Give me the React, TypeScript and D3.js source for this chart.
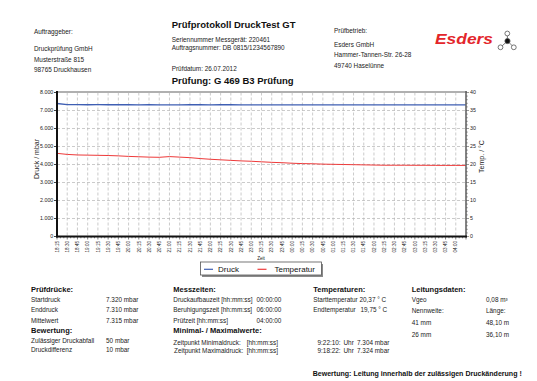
import React from "react";
import * as d3 from "d3";

const timeLabels = [
  "18:15","18:30","18:45","19:00","19:15","19:30","19:45","20:00","20:15","20:30","20:45",
  "21:00","21:15","21:30","21:45","22:00","22:15","22:30","22:45","23:00","23:15","23:30","23:45",
  "00:00","00:15","00:30","00:45","01:00","01:15","01:30","01:45","02:00","02:15","02:30","02:45",
  "03:00","03:15","03:30","03:45","04:00","04:15"
];
const druck = [
  7390, 7328, 7322, 7320, 7321, 7320, 7319, 7320, 7318, 7320, 7316,
  7310, 7318, 7320, 7319, 7318, 7320, 7319, 7318, 7317, 7318, 7317, 7316,
  7318, 7316, 7317, 7315, 7316, 7315, 7314, 7316, 7311, 7308, 7314, 7312,
  7313, 7311, 7312, 7310, 7311, 7310
];
const temperatur = [
  23.1, 22.8, 22.65, 22.6, 22.55, 22.5, 22.4, 22.25, 22.15, 22.05, 22.0,
  22.2, 22.05, 21.9, 21.65, 21.45, 21.3, 21.15, 21.0, 20.9, 20.75, 20.6, 20.5,
  20.35, 20.25, 20.2, 20.1, 20.05, 20.0, 19.95, 19.9, 19.85, 19.8, 19.8, 19.8,
  19.78, 19.78, 19.76, 19.75, 19.75, 19.75
];
const druckTicks = [0, 1000, 2000, 3000, 4000, 5000, 6000, 7000, 8000];
const tempTicks = [0, 5, 10, 15, 20, 25, 30, 35, 40];

const FONT = "'Liberation Sans', Arial, sans-serif";
const BLUE = "#3f5fb3";
const RED = "#ee3a3a";

const de = d3.formatLocale({ decimal: ",", thousands: ".", grouping: [3], currency: ["", "€"] });
const fmtK = de.format(",");

export default function App() {
  const L = 57, R = 466, T = 92.5, B = 236.5;
  const x = d3.scalePoint<string>().domain(timeLabels).range([L, R]);
  const yL = d3.scaleLinear().domain([0, 8000]).range([B, T]);
  const yR = d3.scaleLinear().domain([0, 40]).range([B, T]);

  const lineD = d3.line<number>().x((_, i) => x(timeLabels[i]) as number).y((d) => yL(d));
  const lineT = d3.line<number>().x((_, i) => x(timeLabels[i]) as number).y((d) => yR(d));

  const t = (xx: number, yy: number, s: string, opts: any = {}) => (
    <text x={xx} y={yy} fontSize={opts.size ?? 6.4} fontWeight={opts.bold ? "bold" : "normal"}
      fill={opts.fill ?? "#222"} textAnchor={opts.anchor ?? "start"}
      textLength={opts.len} lengthAdjust={opts.len ? "spacingAndGlyphs" : undefined}>{s}</text>
  );

  const minorTemp = d3.range(0, 41, 1);
  const minorTime = d3.range(0, 120 + 1);

  return (
    <svg width={537} height={381} style={{ position: "absolute", left: 0, top: 0, background: "#fff" }}
      fontFamily={FONT}>
      <rect x={0} y={0} width={537} height={381} fill="#fff" />
      {/* header left */}
      {t(34, 34, "Auftraggeber:")}
      {t(34, 50.6, "Druckprüfung GmbH")}
      {t(34, 61.6, "Musterstraße 815")}
      {t(34, 72.3, "98765 Druckhausen")}
      {/* header center */}
      {t(171.7, 28.4, "Prüfprotokoll DruckTest GT", { size: 9.5, bold: true, fill: "#111" })}
      {t(171.7, 41.6, "Seriennummer Messgerät: 220461")}
      {t(171.7, 49.6, "Auftragsnummer: DB 0815/1234567890")}
      {t(171.7, 70.6, "Prüfdatum: 26.07.2012")}
      {t(171.7, 83.7, "Prüfung: G 469 B3 Prüfung", { size: 9.5, bold: true, fill: "#111" })}
      {/* header right */}
      {t(334, 33.3, "Prüfbetrieb:")}
      {t(334, 46.6, "Esders GmbH")}
      {t(334, 57.3, "Hammer-Tannen-Str. 26-28")}
      {t(334, 68.3, "49740 Haselünne")}
      {/* logo */}
      <text x={435} y={43.5} fontSize={15.5} fontWeight="bold" fontStyle="italic" fill="#e3262b"
        textLength={58} lengthAdjust="spacingAndGlyphs">Esders</text>
      <g stroke="#555" strokeWidth={0.8}>
        <line x1={507.5} y1={41} x2={507.3} y2={33.5} />
        <line x1={507.5} y1={41} x2={500.5} y2={47.3} />
        <line x1={507.5} y1={41} x2={513.8} y2={47.3} />
        <circle cx={507.3} cy={33.5} r={2.4} fill="#fff" />
        <circle cx={500.5} cy={47.3} r={2.4} fill="#fff" />
        <circle cx={513.8} cy={47.3} r={2.4} fill="#fff" />
        <circle cx={507.5} cy={41} r={2.6} fill="#111" />
      </g>

      {/* grid */}
      <g stroke="#b5b5b5" strokeWidth={0.7} strokeDasharray="3,2">
        {druckTicks.slice(1, -1).map((v) => (
          <line key={"h" + v} x1={L} x2={R} y1={yL(v)} y2={yL(v)} />
        ))}
        {timeLabels.slice(1, -1).map((s) => (
          <line key={"v" + s} x1={x(s)} x2={x(s)} y1={T} y2={B} />
        ))}
      </g>
      {/* top border */}
      <line x1={L} x2={R + 1} y1={T - 0.5} y2={T - 0.5} stroke="#b0b0b0" strokeWidth={2} />

      {/* lines */}
      <path d={lineT(temperatur) as string} fill="none" stroke={RED} strokeWidth={1} />
      <path d={lineD(druck) as string} fill="none" stroke={BLUE} strokeWidth={1.3} />

      {/* left axis */}
      <line x1={L} x2={L} y1={T - 1.5} y2={B + 1} stroke="#111" strokeWidth={2} />
      {druckTicks.map((v) => (
        <g key={"lt" + v}>
          <line x1={L - 3} x2={L} y1={yL(v)} y2={yL(v)} stroke="#111" strokeWidth={0.8} />
          <text x={53.3} y={yL(v) + 1.9} fontSize={5.3} textAnchor="end" fill="#222">{fmtK(v)}</text>
        </g>
      ))}
      <text transform={`translate(38.5,159) rotate(-90)`} fontSize={7} textAnchor="middle" fill="#222">Druck / mbar</text>

      {/* right axis */}
      <line x1={R} x2={R} y1={T - 1.5} y2={B + 1} stroke="#666" strokeWidth={1.6} />
      {minorTemp.map((v) => (
        <line key={"rm" + v} x1={R} x2={R + (v % 5 === 0 ? 3 : 1.8)} y1={yR(v)} y2={yR(v)} stroke="#555" strokeWidth={0.6} />
      ))}
      {tempTicks.map((v) => (
        <text key={"rt" + v} x={470} y={yR(v) + 1.9} fontSize={5.3} fill="#222">{v}</text>
      ))}
      <text transform={`translate(483.5,156.5) rotate(-90)`} fontSize={7} textAnchor="middle" fill="#222">Temp. / °C</text>

      {/* bottom axis */}
      <line x1={L - 1} x2={R + 1} y1={B} y2={B} stroke="#111" strokeWidth={2} />
      {minorTime.map((k) => {
        const xx = L + (k / 120) * (R - L);
        return <line key={"bm" + k} x1={xx} x2={xx} y1={B} y2={B + (k % 3 === 0 ? 3 : 1.8)} stroke="#222" strokeWidth={0.6} />;
      })}
      {timeLabels.slice(0, -1).map((s) => (
        <text key={"xl" + s} transform={`translate(${(x(s) as number) + 1.7},241) rotate(-90)`}
          fontSize={4.6} textAnchor="end" fill="#222">{s}</text>
      ))}
      <text x={261} y={259.8} fontSize={4.6} textAnchor="middle" fill="#222">Zeit</text>

      {/* legend */}
      <rect x={202} y={264} width={121} height={13} fill="#8a8a8a" />
      <rect x={200.5} y={262} width={121} height={13} fill="#fff" stroke="#555" strokeWidth={0.8} />
      <line x1={204} x2={213} y1={269.3} y2={269.3} stroke={BLUE} strokeWidth={1.2} />
      <text x={218} y={272.2} fontSize={8} fill="#111">Druck</text>
      <line x1={257.5} x2={266.5} y1={269.3} y2={269.3} stroke={RED} strokeWidth={1.2} />
      <text x={274.5} y={272.2} fontSize={8} fill="#111">Temperatur</text>

      {/* bottom section: col 1 */}
      {t(31, 291.7, "Prüfdrücke:", { size: 7.5, bold: true, fill: "#111" })}
      {t(31, 301.5, "Startdruck")}{t(106, 301.5, "7.320 mbar")}
      {t(31, 312, "Enddruck")}{t(106, 312, "7.310 mbar")}
      {t(31, 323, "Mittelwert")}{t(106, 323, "7.315 mbar")}
      {t(31, 332.7, "Bewertung:", { size: 7.5, bold: true, fill: "#111" })}
      {t(31, 342.5, "Zulässiger Druckabfall")}{t(106, 342.5, "50 mbar")}
      {t(31, 352, "Druckdifferenz")}{t(106, 352, "10 mbar")}

      {/* col 2 */}
      {t(173.3, 291.7, "Messzeiten:", { size: 7.5, bold: true, fill: "#111" })}
      {t(173.3, 301.5, "Druckaufbauzeit [hh:mm:ss]")}{t(256.5, 301.5, "00:00:00")}
      {t(173.3, 312, "Beruhigungszeit [hh:mm:ss]")}{t(256.5, 312, "06:00:00")}
      {t(173.3, 323, "Prüfzeit [hh:mm:ss]")}{t(256.5, 323, "04:00:00")}
      {t(173.3, 333.4, "Minimal- / Maximalwerte:", { size: 7.5, bold: true, fill: "#111" })}
      {t(173.3, 345, "Zeitpunkt Minimaldruck:")}{t(246.7, 345, "[hh:mm:ss]")}
      {t(317.5, 345, "9:22:10:")}{t(343.5, 345, "Uhr")}{t(357, 345, "7.304 mbar")}
      {t(174, 353.3, "Zeitpunkt Maximaldruck:")}{t(246.7, 353.3, "[hh:mm:ss]")}
      {t(317.5, 353.3, "9:18:22:")}{t(343.5, 353.3, "Uhr")}{t(357, 353.3, "7.324 mbar")}

      {/* col 3 */}
      {t(313.3, 291.7, "Temperaturen:", { size: 7.5, bold: true, fill: "#111" })}
      {t(313.3, 301.5, "Starttemperatur 20,37 ° C")}
      {t(313.3, 312, "Endtemperatur")}{t(360.5, 312, "19,75 ° C")}

      {/* col 4 */}
      {t(411.7, 291.7, "Leitungsdaten:", { size: 7.5, bold: true, fill: "#111" })}
      {t(411.7, 301.5, "Vgeo")}{t(486, 301.5, "0,08 m³")}
      {t(411.7, 313.2, "Nennweite:")}{t(486, 313.2, "Länge:")}
      {t(411.7, 325, "41 mm")}{t(486, 325, "48,10 m")}
      {t(411.7, 336.5, "26 mm")}{t(486, 336.5, "36,10 m")}

      {t(312.7, 375.8, "Bewertung: Leitung innerhalb der zulässigen Druckänderung !", { size: 7.05, bold: true, fill: "#111" })}
    </svg>
  );
}
